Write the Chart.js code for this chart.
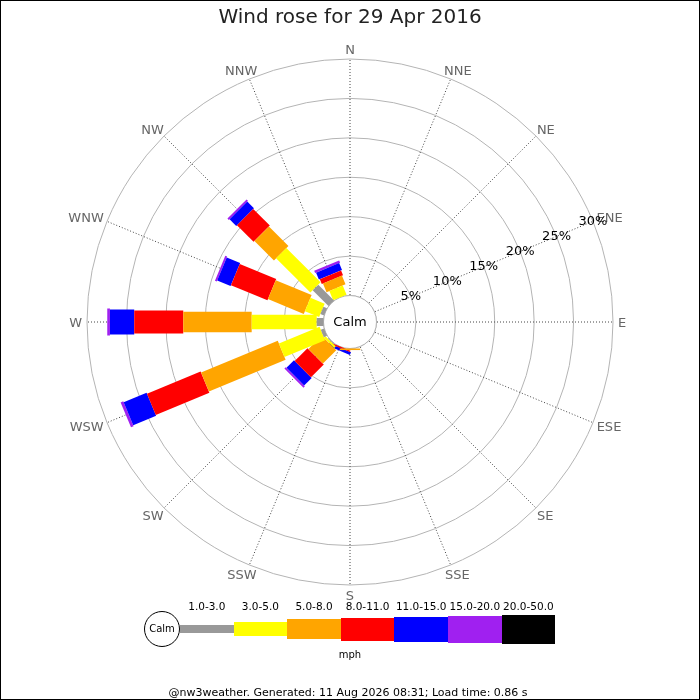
<!DOCTYPE html>
<html>
<head>
<meta charset="utf-8">
<title>Wind rose</title>
<script src="https://cdn.jsdelivr.net/npm/chart.js@4.4.1/dist/chart.umd.min.js"></script>
<style>
  body { margin: 0; background: #fff; overflow: hidden; font-family: "DejaVu Sans", sans-serif; }
  #page { position: relative; width: 700px; height: 700px; }
  #rose { position: absolute; left: 0; top: 0; }
  #frame { position: absolute; left: 0; top: 0; width: 700px; height: 700px; box-sizing: border-box;
           border: 1px solid #000; pointer-events: none; z-index: 5; }
  .lg { position: absolute; color: #000; text-align: center; white-space: nowrap; }
  .lg-calm { border: 1px solid #000; border-radius: 50%; box-sizing: border-box; background: #fff;
             font-size: 10px; line-height: 34px; }
</style>
</head>
<body>
<div id="page">
  <canvas id="rose" width="700" height="700"></canvas>
  <div id="legend"></div>
  <div class="lg" style="left:300px;top:649px;width:100px;font-size:10px;">mph</div>
  <div class="lg" style="left:0;top:686px;width:696px;font-size:11px;">@nw3weather. Generated: 11 Aug 2026 08:31; Load time: 0.86 s</div>
  <div id="frame"></div>
</div>
<script>
// directions clockwise from north
var directions = ['N', 'NNE', 'NE', 'ENE', 'E', 'ESE', 'SE', 'SSE', 'S', 'SSW', 'SW', 'WSW', 'W', 'WNW', 'NW', 'NNW'];
var speedBins = ['1.0-3.0', '3.0-5.0', '5.0-8.0', '8.0-11.0', '11.0-15.0', '15.0-20.0', '20.0-50.0'];

// percent of the day per direction, one array per speed bin (mph)
var pct1to3   = [0, 0, 0, 0, 0, 0, 0, 0, 0,   0,    0.1,  0.44,  0.86, 0.5,  2.83, 0];
var pct3to5   = [0, 0, 0, 0, 0, 0, 0, 0, 0,   0,    0.3,  5.58,  8.25, 1.95, 6.15, 1.27];
var pct5to8   = [0, 0, 0, 0, 0, 0, 0, 0, 0.2, 0,    2.4,  10.53, 8.68, 4.92, 3.5,  1.2];
var pct8to11  = [0, 0, 0, 0, 0, 0, 0, 0, 0,   0.15, 2.3,  7.36,  6.22, 5.01, 2.98, 0.65];
var pct11to15 = [0, 0, 0, 0, 0, 0, 0, 0, 0,   0.35, 1.35, 3.15,  3.08, 1.84, 1.2,  0.95];
var pct15to20 = [0, 0, 0, 0, 0, 0, 0, 0, 0,   0,    0.25, 0.36,  0.34, 0.25, 0.25, 0.3];
var pct20to50 = [0, 0, 0, 0, 0, 0, 0, 0, 0,   0,    0,    0,     0,    0,    0,    0];

var tickValues = [0, 5, 10, 15, 20, 25, 30];

var binValues = [pct1to3, pct3to5, pct5to8, pct8to11, pct11to15, pct15to20, pct20to50];
var binColors = ['#999999', '#ffff00', '#ffa500', '#ff0000', '#0000ff', '#a020f0', '#000000'];
var binWidths = [8, 14.5, 20.5, 23, 25, 27, 29];

// geometry of the rose on the page
var CX = 350, CY = 322, R = 263, R_MIN = -3.36, TICK_DIR = 3, LABEL_PAD = 5;

// stack the bins: start/end of each segment along its direction
var starts = [], ends = [];
var acc = directions.map(function() { return 0; });
binValues.forEach(function(vals, b) {
  starts[b] = acc.slice();
  acc = acc.map(function(a, i) { return a + vals[i]; });
  ends[b] = acc.slice();
});

function segHalf(c) {
  var s = c.chart.scales.r;
  var b = c.datasetIndex, i = c.dataIndex;
  return (s.getDistanceFromCenterForValue(ends[b][i]) - s.getDistanceFromCenterForValue(starts[b][i])) / 2;
}

var datasets = speedBins.map(function(name, b) {
  return {
    label: name,
    data: directions.map(function(d, i) { return (starts[b][i] + ends[b][i]) / 2; }),
    showLine: false,
    fill: false,
    pointStyle: 'line',
    pointRotation: function(c) { return c.dataIndex * 22.5 - 90; },
    pointRadius: segHalf,
    pointBorderWidth: binWidths[b],
    pointBorderColor: binColors[b],
    pointBackgroundColor: binColors[b]
  };
});

var roseExtras = {
  id: 'roseExtras',
  beforeDatasetsDraw: function(chart) {
    var s = chart.scales.r, ctx = chart.ctx;
    ctx.save();
    // direction labels just outside the outer ring
    ctx.font = '13px "DejaVu Sans"';
    ctx.fillStyle = '#666';
    ctx.textAlign = 'center';
    ctx.textBaseline = 'middle';
    directions.forEach(function(d, i) {
      var a = i * Math.PI / 8;
      var p = s.getPointPosition(i, s.drawingArea + LABEL_PAD);
      var w = ctx.measureText(d).width;
      ctx.fillText(d, p.x + Math.sin(a) * w / 2, p.y - Math.cos(a) * 5 + 1.5);
    });
    // calm circle
    ctx.beginPath();
    ctx.arc(s.xCenter, s.yCenter, s.getDistanceFromCenterForValue(0), 0, Math.PI * 2);
    ctx.fillStyle = '#fff';
    ctx.fill();
    ctx.strokeStyle = '#b4b4b4';
    ctx.lineWidth = 1;
    ctx.stroke();
    ctx.restore();
  },
  afterDatasetsDraw: function(chart) {
    var s = chart.scales.r, ctx = chart.ctx;
    ctx.save();
    ctx.font = '13px "DejaVu Sans"';
    ctx.fillStyle = '#000';
    ctx.textAlign = 'center';
    ctx.textBaseline = 'middle';
    ctx.fillText('Calm', s.xCenter, s.yCenter + 1);
    tickValues.forEach(function(v) {
      if (v === 0) return;
      var p = s.getPointPositionForValue(TICK_DIR, v);
      ctx.fillText(v + '%', p.x, p.y);
    });
    ctx.restore();
  }
};

Chart.defaults.font.family = 'DejaVu Sans';

new Chart(document.getElementById('rose'), {
  type: 'radar',
  data: { labels: directions, datasets: datasets },
  plugins: [roseExtras],
  options: {
    responsive: false,
    animation: false,
    events: [],
    layout: { padding: 0 },
    plugins: {
      legend: { display: false },
      tooltip: { enabled: false },
      title: {
        display: true,
        text: 'Wind rose for 29 Apr 2016',
        color: '#222',
        font: { size: 20, weight: 'normal' },
        padding: { top: 6, bottom: 0 }
      }
    },
    scales: {
      r: {
        min: R_MIN,
        max: 30,
        afterSetDimensions: function(s) { s.xCenter = CX; s.yCenter = CY; s.drawingArea = R; },
        afterBuildTicks: function(s) { s.ticks = tickValues.map(function(v) { return { value: v }; }); },
        ticks: { display: false },
        grid: { circular: true, color: '#b4b4b4', lineWidth: 1 },
        angleLines: { color: '#444', lineWidth: 1, borderDash: [1, 2] },
        pointLabels: { display: false }
      }
    }
  }
});

// legend: calm circle, then one box per speed bin with its label above
var legend = document.getElementById('legend');
var LX = 180, LW = 53.6, LY = 629;
var calm = document.createElement('div');
calm.className = 'lg lg-calm';
calm.style.cssText = 'left:144px;top:' + (LY - 18) + 'px;width:36px;height:36px;';
calm.textContent = 'Calm';
legend.appendChild(calm);
speedBins.forEach(function(name, b) {
  var box = document.createElement('div');
  box.className = 'lg';
  box.style.cssText = 'left:' + (LX + b * LW) + 'px;top:' + (LY - binWidths[b] / 2) + 'px;width:' + LW +
    'px;height:' + binWidths[b] + 'px;background:' + binColors[b] + ';';
  legend.appendChild(box);
  var lab = document.createElement('div');
  lab.className = 'lg';
  lab.style.cssText = 'left:' + (LX + b * LW - 10) + 'px;top:600px;width:' + (LW + 20) + 'px;font-size:10.5px;';
  lab.textContent = name;
  legend.appendChild(lab);
});
</script>
</body>
</html>
